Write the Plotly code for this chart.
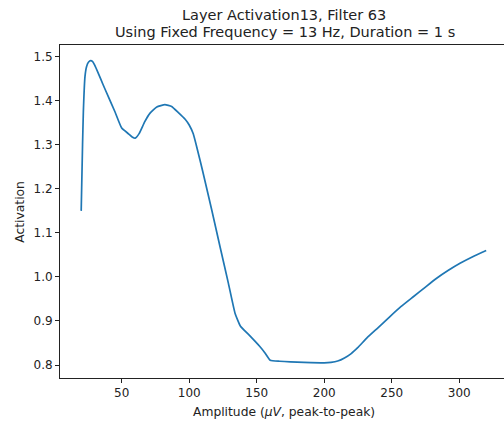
import plotly.graph_objects as go

amplitude = [20, 21, 21.6, 22.8, 24, 25.5, 27, 28.5, 30, 33, 36, 40, 45, 50, 55, 58, 60,
             63, 67, 71, 76, 82, 87, 92, 97, 100, 103, 106, 110, 116.7, 122.8, 129, 134,
             138, 145, 152, 156, 160, 167, 175, 185, 200, 205, 210, 215, 220, 225, 231.5,
             240, 248.7, 257, 266, 275, 283.3, 292, 300.6, 310, 320]
activation = [1.150, 1.300, 1.375, 1.455, 1.478, 1.488, 1.491, 1.489, 1.481, 1.460, 1.438,
              1.410, 1.375, 1.338, 1.325, 1.317, 1.315, 1.326, 1.352, 1.372, 1.386, 1.391,
              1.387, 1.373, 1.358, 1.345, 1.325, 1.290, 1.240, 1.152, 1.069, 0.986, 0.917,
              0.888, 0.866, 0.843, 0.828, 0.811, 0.8085, 0.807, 0.806, 0.805, 0.806, 0.809,
              0.816, 0.826, 0.840, 0.861, 0.885, 0.910, 0.933, 0.955, 0.977, 0.997, 1.015,
              1.031, 1.046, 1.060]

x_ticks = [50, 100, 150, 200, 250, 300]
y_ticks = [0.8, 0.9, 1.0, 1.1, 1.2, 1.3, 1.4, 1.5]

title_lines = ["Layer Activation13, Filter 63",
               "Using Fixed Frequency = 13 Hz, Duration = 1 s"]
x_label = "Amplitude (<i>μV</i>, peak-to-peak)"
y_label = "Activation"

W, H = 504, 422
L, T, B = 60, 45, 44
x0_px, x_scale = 54.2, 1.35          # pixel of x=0, px per unit
y08_px, y_scale = 365.0, 440.4       # pixel of y=0.8, px per unit
x_range = [(L - x0_px) / x_scale, (W - x0_px) / x_scale]
y_range = [0.8 + (y08_px - (H - B)) / y_scale, 0.8 + (y08_px - T) / y_scale]

font = "DejaVu Sans"
ink = "#222"
fig = go.Figure(go.Scatter(x=amplitude, y=activation, mode="lines",
                           line=dict(color="#1f77b4", width=1.7, shape="spline",
                                     smoothing=0.4), hoverinfo="skip"))

plot_w = W - L
plot_h = H - T - B


def px_to_paper_y(py):
    return (H - B - py) / plot_h


def px_to_paper_x(px):
    return (px - L) / plot_w


title_size = 14.5
annotations = [
    dict(text=title_lines[0], xref="paper", yref="paper", x=px_to_paper_x(284),
         y=px_to_paper_y(20 - 0.346 * title_size), xanchor="center", yanchor="middle",
         showarrow=False, font=dict(family=font, size=title_size, color=ink)),
    dict(text=title_lines[1], xref="paper", yref="paper", x=px_to_paper_x(285),
         y=px_to_paper_y(37.2 - 0.346 * title_size), xanchor="center", yanchor="middle",
         showarrow=False, font=dict(family=font, size=title_size, color=ink)),
    dict(text=x_label, xref="paper", yref="paper", x=px_to_paper_x(283.5),
         y=px_to_paper_y(411.8), xanchor="center", yanchor="middle",
         showarrow=False, font=dict(family=font, size=12.3, color=ink)),
    dict(text=y_label, xref="paper", yref="paper", x=px_to_paper_x(19.2), y=0.5,
         xanchor="center", yanchor="middle", textangle=-90,
         showarrow=False, font=dict(family=font, size=12.3, color=ink)),
]

fig.update_layout(
    width=W, height=H,
    margin=dict(l=L, r=0, t=T, b=B, pad=0),
    plot_bgcolor="white", paper_bgcolor="white",
    showlegend=False,
    font=dict(family=font, size=12, color=ink),
    xaxis=dict(range=x_range, tickvals=x_ticks, ticks="outside", ticklen=4, tickwidth=0.9,
               tickcolor=ink, showline=True, linecolor=ink, linewidth=1, mirror=True,
               showgrid=False, zeroline=False, tickfont=dict(size=12)),
    yaxis=dict(range=y_range, tickvals=y_ticks, tickformat=".1f", ticks="outside", ticklen=4,
               tickwidth=0.9, tickcolor=ink, showline=True, linecolor=ink, linewidth=1,
               mirror=False, showgrid=False, zeroline=False, tickfont=dict(size=12)),
    annotations=annotations,
)
fig.write_html("out.html")
